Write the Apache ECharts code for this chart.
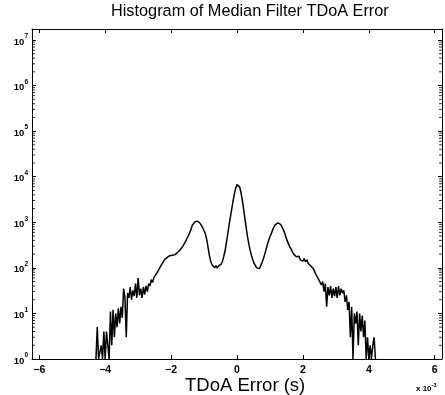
<!DOCTYPE html>
<html>
<head>
<meta charset="utf-8">
<script src="https://cdn.jsdelivr.net/npm/echarts@6/dist/echarts.min.js"></script>
<style>
html,body{margin:0;padding:0;background:#fff;}
#chart{width:445px;height:395px;}
</style>
</head>
<body>
<div id="chart"></div>
<script>
// Histogram bins (x in units of 1e-3 s)
const binStart = -4.28;
const binWidth = 0.04;
// Counts per bin
const counts = [
  1, 5, 1, 1, 2, 1, 4, 1, 4, 2,
  1, 11, 2, 12, 3, 10, 5, 13, 6, 14,
  8, 35, 22, 3, 28, 22, 38, 20, 32, 24,
  45, 22, 60, 25, 35, 22, 38, 26, 40, 30,
  45, 40, 55, 48, 62, 60, 75, 80, 95, 105,
  120, 130, 150, 160, 170, 160, 185, 170, 190, 180,
  195, 200, 220, 235, 250, 275, 300, 330, 380, 440,
  500, 580, 680, 850, 940, 1020, 1060, 1060, 1010, 950,
  870, 760, 650, 560, 420, 290, 190, 140, 118, 108,
  100, 112, 98, 110, 104, 120, 140, 180, 240, 360,
  560, 880, 1300, 1950, 2900, 4200, 5600, 6700, 7000, 6000,
  4500, 3100, 1950, 1200, 750, 480, 330, 240, 185, 150,
  125, 112, 100, 108, 96, 112, 130, 160, 195, 250,
  320, 400, 480, 560, 680, 790, 880, 950, 970, 960,
  900, 810, 700, 600, 480, 400, 340, 290, 260, 225,
  200, 185, 175, 170, 180, 150, 165, 140, 160, 135,
  150, 125, 130, 110, 115, 95, 90, 70, 75, 55,
  60, 42, 50, 30, 45, 14, 38, 25, 40, 22,
  35, 24, 38, 22, 40, 25, 35, 28, 32, 18,
  25, 12, 18, 3, 14, 1, 10, 6, 11, 2,
  10, 4, 9, 3, 7, 1, 3, 1, 2, 1,
  2, 3, 1
];
const xTickValues = [-6, -4, -2, 0, 2, 4, 6];
const xLimits = [-6.22, 6.22];
const yLimits = [1, 1.74e7];
const minorMultipliers = [2, 3, 4, 5, 6, 7, 8, 9];
const decades = [1, 10, 100, 1000, 10000, 100000, 1000000];

const lineData = counts.map((c, i) => [+(binStart + i * binWidth).toFixed(2), c]);
const minorTicks = [];
decades.forEach(d => minorMultipliers.forEach(m => minorTicks.push(d * m)));

const FONT = '"Liberation Sans", Arial, Helvetica, sans-serif';

function yLabel(v) {
  const n = Math.log10(v);
  const r = Math.round(n);
  if (Math.abs(n - r) > 1e-6) return '';
  return '{b|10}{e|' + r + '}';
}

const chart = echarts.init(document.getElementById('chart'), null, {renderer: 'canvas'});
const baseX = {
  type: 'value', min: xLimits[0], max: xLimits[1],
  axisLine: {show: true, onZero: false, lineStyle: {color: '#000', width: 1}},
  axisTick: {show: true, inside: true, length: 4, customValues: xTickValues, lineStyle: {color: '#000'}},
  splitLine: {show: false}
};
const baseY = {
  type: 'log', logBase: 10, min: yLimits[0], max: yLimits[1],
  axisLine: {show: true, onZero: false, lineStyle: {color: '#000', width: 1}},
  axisTick: {show: true, inside: true, length: 4, lineStyle: {color: '#000'}},
  splitLine: {show: false},
  minorTick: {show: false}
};
chart.setOption({
  animation: false,
  backgroundColor: '#fff',
  title: [
    {text: 'Histogram of Median Filter TDoA Error', left: 111, top: 4, padding: 0,
     textStyle: {fontFamily: FONT, fontSize: 16.3, fontWeight: 'normal', color: '#000'}},
    {text: '{a|x 10}{e|-3}', left: 416, top: 382, padding: 0,
     textStyle: {rich: {
       a: {fontFamily: FONT, fontSize: 8, fontWeight: 'bold', color: '#000', verticalAlign: 'bottom', lineHeight: 11},
       e: {fontFamily: FONT, fontSize: 5.5, fontWeight: 'bold', color: '#000', verticalAlign: 'top', lineHeight: 11}
     }}},
    {text: 'TDoA Error (s)', left: 185, top: 376, padding: 0,
     textStyle: {fontFamily: FONT, fontSize: 18.5, fontWeight: 'normal', color: '#000'}}
  ],
  grid: {left: 32, right: 3, top: 29, bottom: 36, containLabel: false},
  xAxis: [
    Object.assign({}, baseX, {
      position: 'bottom',
      axisLabel: {show: true, customValues: xTickValues, margin: 6,
        fontFamily: FONT, fontSize: 10.5, fontWeight: 'bold', color: '#000',
        formatter: v => String(v).replace('-', '\u2212')}
    }),
    Object.assign({}, baseX, {position: 'top', axisLabel: {show: false}})
  ],
  yAxis: [
    Object.assign({}, baseY, {
      position: 'left',
      axisLabel: {show: true, margin: 4, showMaxLabel: false, formatter: yLabel,
        rich: {
          b: {fontFamily: FONT, fontSize: 9.5, fontWeight: 'bold', color: '#000', verticalAlign: 'bottom', lineHeight: 14},
          e: {fontFamily: FONT, fontSize: 6.5, fontWeight: 'bold', color: '#000', verticalAlign: 'top', lineHeight: 14}
        }}
    }),
    Object.assign({}, baseY, {position: 'right', axisLabel: {show: false}})
  ],
  series: [
    {type: 'line', xAxisIndex: 0, yAxisIndex: 0, data: lineData, showSymbol: false,
     symbol: 'none', lineStyle: {color: '#000', width: 1.5}, silent: true},
    {type: 'scatter', xAxisIndex: 0, yAxisIndex: 0, clip: false, silent: true,
     data: minorTicks.map(v => [xLimits[0], v]), symbol: 'rect', symbolSize: [3, 1],
     symbolOffset: [1.5, 0], itemStyle: {color: '#000'}},
    {type: 'scatter', xAxisIndex: 0, yAxisIndex: 0, clip: false, silent: true,
     data: minorTicks.map(v => [xLimits[1], v]), symbol: 'rect', symbolSize: [3, 1],
     symbolOffset: [-1.5, 0], itemStyle: {color: '#000'}}
  ]
});
</script>
</body>
</html>
